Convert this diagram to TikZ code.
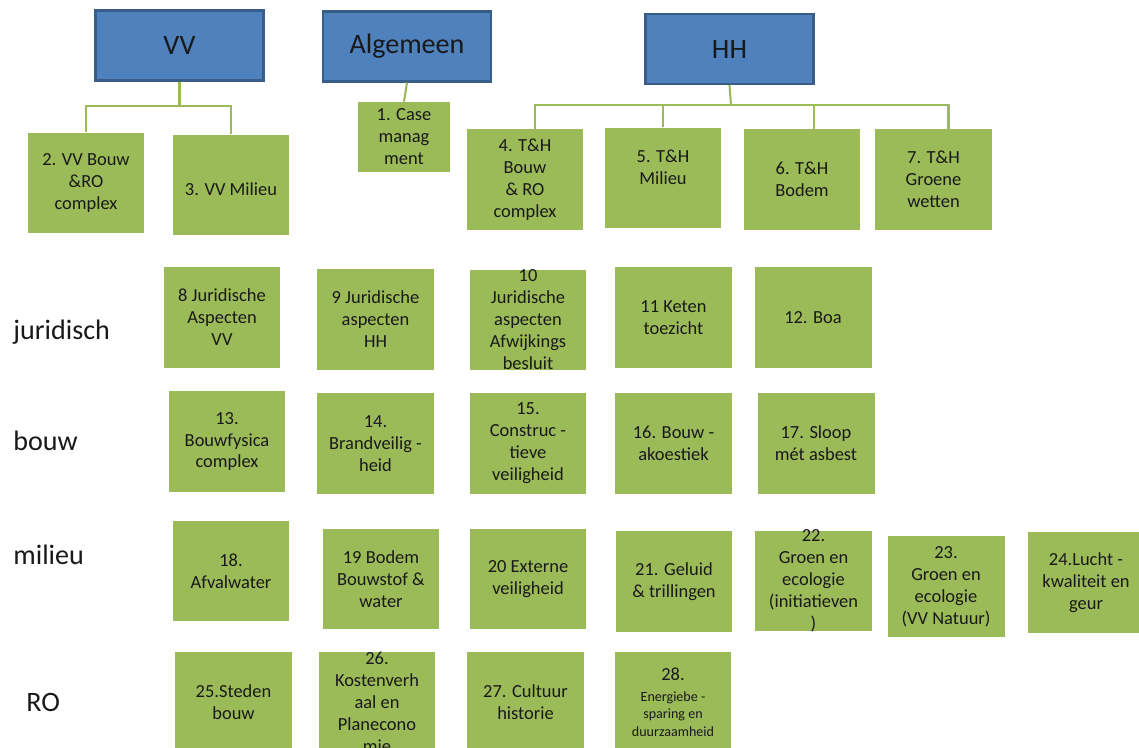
\documentclass[tikz,border=0pt]{standalone}
\usepackage{fontspec}
\setmainfont{Carlito}
\usetikzlibrary{positioning,calc}
\definecolor{headblue}{HTML}{4F81BD}
\definecolor{headedge}{HTML}{385D8A}
\definecolor{taskgreen}{HTML}{9BBB59}
\newcommand{\smalltask}{\fontsize{8}{10}\selectfont}
\newcommand{\normaltask}{\fontsize{10.5}{12.5}\selectfont}
\tikzset{
    head/.style = {
        draw=headedge,
        fill=headblue,
        shape=rectangle,
        minimum height=1.4cm,
        minimum width=3.36cm,
        line width=1.2pt,
        text=black!90,
        font=\fontsize{16}{19}\selectfont
    },
    task/.style = {
        fill=taskgreen,
        shape=rectangle,
        align=center,
        minimum height=2.02cm,
        minimum width=2.34cm,
        inner sep=0pt,
        text=black!90,
        font=\normaltask
    },
    overfull/.style = {
        inner ysep=-4pt
    },
    rowlabel/.style = {
        anchor=base west,
        inner sep=0pt,
        text=black!90,
        font=\fontsize{16}{19}\selectfont
    },
    link/.style = {
        draw=taskgreen,
        line width=1.2pt
    },
}

\begin{document}
\begin{tikzpicture}[x=0.02cm,y=-0.02cm]
    \useasboundingbox (0,0) rectangle (1139,747);

    % heads
    \node[head] (vv) at (179.5,45.5) {VV};
    \node[head] (alg) at (407,46.5) {Algemeen};
    \node[head] (hh) at (729.5,49) {HH};

    % first level
    \node[task, minimum width=1.84cm, minimum height=1.4cm] (b1) at (404,137) {1. Case\\manag\\ment};
    \node[task] (b2) at (86,183) {2. VV Bouw\\\&RO\\complex};
    \node[task] (b3) at (231,185) {~\\3. VV Milieu};
    \node[task] (b4) at (525,179.5) {4. T\&H\\Bouw\\\& RO\\complex};
    \node[task] (b5) at (663,178) {5. T\&H\\Milieu\\~};
    \node[task] (b6) at (802,179.5) {6. T\&H\\Bodem};
    \node[task] (b7) at (933.5,179.5) {7. T\&H\\Groene\\wetten};

    % row labels
    \node[rowlabel] (juridisch) at (13,339) {juridisch};
    \node[rowlabel] (bouw) at (13,450) {bouw};
    \node[rowlabel] (milieu) at (13,564) {milieu};
    \node[rowlabel] (ro) at (26,711) {RO};

    % juridisch
    \node[task] (b8) at (222,317.5) {8 Juridische\\Aspecten\\VV};
    \node[task] (b9) at (375.5,319.5) {9 Juridische\\aspecten\\HH};
    \node[task, overfull] (b10) at (528,320) {10\\Juridische\\aspecten\\Afwijkings\\besluit};
    \node[task] (b11) at (673.5,317.5) {11 Keten\\toezicht};
    \node[task] (b12) at (813,317.5) {12. Boa};

    % bouw
    \node[task] (b13) at (227,441.5) {13.\\Bouwfysica\\complex};
    \node[task] (b14) at (375.5,443.5) {14.\\Brandveilig -\\heid};
    \node[task] (b15) at (528,443.5) {15.\\Construc -\\tieve\\veiligheid};
    \node[task] (b16) at (673.5,443.5) {16. Bouw -\\akoestiek};
    \node[task] (b17) at (816,443.5) {17. Sloop\\mét asbest};

    % milieu
    \node[task] (b18) at (231,571) {18.\\Afvalwater};
    \node[task] (b19) at (381,579) {19 Bodem\\Bouwstof \&\\water};
    \node[task] (b20) at (528,579) {20 Externe\\veiligheid};
    \node[task] (b21) at (674,581.5) {21. Geluid\\\& trillingen};
    \node[task, overfull] (b22) at (813.5,581) {22.\\Groen en\\ecologie\\(initiatieven\\)};
    \node[task] (b23) at (946,586.5) {23.\\Groen en\\ecologie\\(VV Natuur)};
    \node[task] (b24) at (1086,582.5) {24.Lucht -\\kwaliteit en\\geur};

    % RO
    \node[task] (b25) at (233.5,702) {25.Steden\\bouw};
    \node[task, overfull] (b26) at (377,702) {26.\\Kostenverh\\aal en\\Planecono\\mie};
    \node[task] (b27) at (525.5,702) {27. Cultuur\\historie};
    \node[task, font=\smalltask] (b28) at (673,702) {{\normaltask 28.}\\[2pt]Energiebe -\\sparing en\\duurzaamheid};

    % connectors
    \coordinate (vvbar) at (179.5,106);
    \coordinate (hhbar) at (731,105);

    \path[link] (vv.south) -- (vvbar);
    \path[link] (b2.north) |- (vvbar) -| (b3.north);

    \path[link] (alg.south) -- (b1.north);

    \path[link] (hh.south) -- (hhbar);
    \path[link] (b4.north) ++(10,0) |- (hhbar);
    \path[link] (b5.north) |- (hhbar);
    \path[link] (b6.north) ++(12,0) |- (hhbar);
    \path[link] (b7.north) ++(15,0) |- (hhbar);
\end{tikzpicture}
\end{document}
